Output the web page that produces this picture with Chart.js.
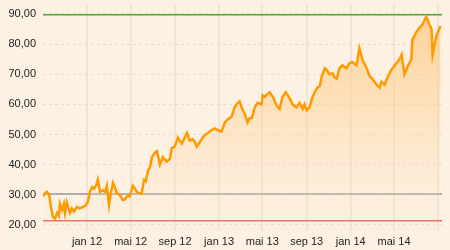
<!DOCTYPE html>
<html>
<head>
<meta charset="utf-8">
<script src="https://cdn.jsdelivr.net/npm/chart.js@4.4.1/dist/chart.umd.min.js"></script>
<style>
  html, body { margin: 0; padding: 0; background: #fdf1e3; }
  #wrap { width: 450px; height: 250px; position: relative; }
</style>
</head>
<body>
<div id="wrap"><canvas id="priceChart"></canvas></div>
<script>
// price history
const dates = [
  "2011-09-01","2011-09-07","2011-09-12","2011-09-18","2011-09-23","2011-09-29","2011-10-04","2011-10-10",
  "2011-10-15","2011-10-18","2011-10-24","2011-10-29","2011-11-01","2011-11-06","2011-11-12","2011-11-15",
  "2011-11-20","2011-11-26","2011-12-04","2011-12-12","2011-12-21","2011-12-29","2012-01-04","2012-01-09",
  "2012-01-15","2012-01-20","2012-01-26","2012-01-31","2012-02-06","2012-02-14","2012-02-20","2012-02-25",
  "2012-03-02","2012-03-07","2012-03-13","2012-03-18","2012-03-24","2012-04-01","2012-04-09","2012-04-15",
  "2012-04-21","2012-04-29","2012-05-07","2012-05-13","2012-05-18","2012-05-26","2012-06-01","2012-06-07",
  "2012-06-12","2012-06-18","2012-06-23","2012-06-29","2012-07-07","2012-07-13","2012-07-21","2012-07-29",
  "2012-08-09","2012-08-18","2012-08-23","2012-08-31","2012-09-09","2012-09-14","2012-09-20","2012-09-28",
  "2012-10-04","2012-10-12","2012-10-20","2012-10-26","2012-10-31","2012-11-09","2012-11-17","2012-11-22",
  "2012-12-01","2012-12-12","2012-12-20","2012-12-28","2013-01-08","2013-01-17","2013-01-25","2013-02-05",
  "2013-02-13","2013-02-22","2013-02-27","2013-03-08","2013-03-13","2013-03-21","2013-03-27","2013-04-02",
  "2013-04-10","2013-04-18","2013-04-29","2013-05-02","2013-05-07","2013-05-16","2013-05-21","2013-05-30",
  "2013-06-10","2013-06-18","2013-06-26","2013-07-05","2013-07-16","2013-07-24","2013-08-04","2013-08-12",
  "2013-08-21","2013-08-26","2013-09-01","2013-09-09","2013-09-15","2013-09-23","2013-10-01","2013-10-07",
  "2013-10-12","2013-10-15","2013-10-21","2013-10-26","2013-11-03","2013-11-12","2013-11-17","2013-11-23",
  "2013-12-01","2013-12-09","2013-12-20","2013-12-29","2014-01-06","2014-01-17","2014-01-25","2014-02-03",
  "2014-02-14","2014-02-22","2014-03-02","2014-03-14","2014-03-22","2014-03-27","2014-04-05","2014-04-13",
  "2014-04-24","2014-05-08","2014-05-16","2014-05-22","2014-05-30","2014-06-07","2014-06-18","2014-06-21",
  "2014-07-02","2014-07-11","2014-07-19","2014-07-27","2014-07-30","2014-08-07","2014-08-13","2014-08-16",
  "2014-08-24","2014-08-29","2014-09-07"
];
const prices = [
  29.5, 30.5, 31.0, 30.0, 26.0, 22.5, 22.0, 24.0,
  23.0, 27.0, 25.0, 27.0, 24.0, 27.5, 25.0, 24.0,
  25.5, 24.5, 26.0, 25.5, 26.0, 26.5, 28.0, 31.0,
  32.5, 32.0, 33.0, 35.0, 31.0, 31.5, 31.0, 33.0,
  26.6, 30.5, 34.0, 32.5, 30.5, 30.0, 28.3, 28.5,
  29.5, 29.5, 33.0, 32.0, 31.0, 30.5, 30.5, 35.0,
  34.5, 38.0, 39.0, 42.5, 44.0, 44.5, 40.0, 42.5,
  41.0, 42.0, 45.5, 46.0, 49.0, 48.0, 47.0, 49.0,
  50.5, 48.0, 48.5, 47.5, 46.0, 47.5, 49.0, 49.8,
  50.5, 51.5, 52.0, 51.5, 51.0, 54.0, 55.0, 56.0,
  59.0, 60.5, 61.0, 58.0, 57.0, 54.0, 55.5, 55.5,
  59.0, 60.5, 60.0, 63.0, 62.5, 63.5, 64.0, 62.5,
  59.5, 58.5, 62.5, 64.0, 62.0, 60.0, 59.0, 60.5,
  58.5, 60.0, 58.0, 59.0, 61.7, 64.0, 65.6, 66.0,
  69.0, 70.0, 72.0, 71.5, 70.0, 70.3, 69.0, 68.5,
  72.0, 73.0, 72.0, 73.7, 74.0, 73.0, 78.6, 74.7,
  72.0, 69.5, 68.5, 66.5, 65.5, 67.5, 66.5, 69.0,
  71.5, 73.7, 75.0, 76.5, 70.0, 72.4, 75.0, 81.5,
  84.0, 85.5, 86.5, 88.5, 89.0, 86.5, 85.0, 76.5,
  81.5, 83.5, 86.0
];

// horizontal reference levels
const highLevel = 89.7;
const midLevel = 30.3;
const lowLevel = 21.4;

// axes
const startDate = "2011-09-01";
const endDate = "2014-09-11";
const tickDates = ["2012-01-01","2012-05-01","2012-09-01","2013-01-01","2013-05-01","2013-09-01","2014-01-01","2014-05-01","2014-09-01"];
const tickLabels = ["jan 12","mai 12","sep 12","jan 13","mai 13","sep 13","jan 14","mai 14",""];
const yTicks = [20, 30, 40, 50, 60, 70, 80, 90];

const DAY = 86400000;
const toDay = (d) => (Date.parse(d) - Date.parse(startDate)) / DAY;
const xMax = toDay(endDate);

const points = dates.map((d, i) => ({ x: toDay(d), y: prices[i] }));
const levelLine = (v) => [{ x: 0, y: v }, { x: xMax, y: v }];

const fillGradient = (context) => {
  const area = context.chart.chartArea;
  if (!area) return "rgba(255,200,120,0.5)";
  const g = context.chart.ctx.createLinearGradient(0, area.top, 0, area.bottom);
  g.addColorStop(0, "rgba(253,196,120,0.75)");
  g.addColorStop(0.5, "rgba(253,210,150,0.45)");
  g.addColorStop(1, "rgba(253,235,210,0.1)");
  return g;
};

// drop the label overhang chart.js reserves at the ends of each axis
const noEdgePadding = (scale) => {
  scale.paddingTop = 0;
  scale.paddingBottom = 0;
  scale.paddingLeft = 0;
  scale.paddingRight = 0;
};

const ctx = document.getElementById("priceChart").getContext("2d");
new Chart(ctx, {
  type: "line",
  data: {
    datasets: [
      {
        data: points,
        borderColor: "#ff9a00",
        borderWidth: 2.5,
        backgroundColor: fillGradient,
        fill: "start",
        pointRadius: 0,
        tension: 0,
      },
      { data: levelLine(highLevel), borderColor: "#4aa82a", borderWidth: 1.5, pointRadius: 0, fill: false },
      { data: levelLine(midLevel), borderColor: "#999999", borderWidth: 1.5, pointRadius: 0, fill: false },
      { data: levelLine(lowLevel), borderColor: "#e0625a", borderWidth: 1.5, pointRadius: 0, fill: false },
    ],
  },
  options: {
    responsive: true,
    maintainAspectRatio: false,
    animation: false,
    layout: { padding: { top: 4, right: 8, left: 0, bottom: 0 } },
    plugins: { legend: { display: false }, tooltip: { enabled: false } },
    scales: {
      x: {
        type: "linear",
        min: 0,
        max: xMax,
        afterBuildTicks: (scale) => {
          scale.ticks = tickDates.map((d) => ({ value: toDay(d) }));
        },
        afterFit: (scale) => { scale.height = 19; noEdgePadding(scale); },
        ticks: {
          autoSkip: false,
          maxRotation: 0,
          padding: 4,
          color: "#222",
          font: { family: "Liberation Sans, Arial, sans-serif", size: 11 },
          callback: (v, i) => tickLabels[i],
        },
        grid: { color: "#f1e4d2", lineWidth: 2, drawTicks: false },
        border: { display: false },
      },
      y: {
        min: 18,
        max: 93.3,
        afterBuildTicks: (scale) => {
          scale.ticks = yTicks.map((v) => ({ value: v }));
        },
        afterFit: (scale) => { scale.width = 43; noEdgePadding(scale); },
        ticks: {
          padding: 7,
          color: "#222",
          font: { family: "Liberation Sans, Arial, sans-serif", size: 11 },
          callback: (v) => v.toFixed(2).replace(".", ","),
        },
        grid: { color: "#e6ddd0", lineWidth: 1, drawTicks: false },
        border: { display: false, dash: [3, 3] },
      },
    },
  },
});
</script>
</body>
</html>
